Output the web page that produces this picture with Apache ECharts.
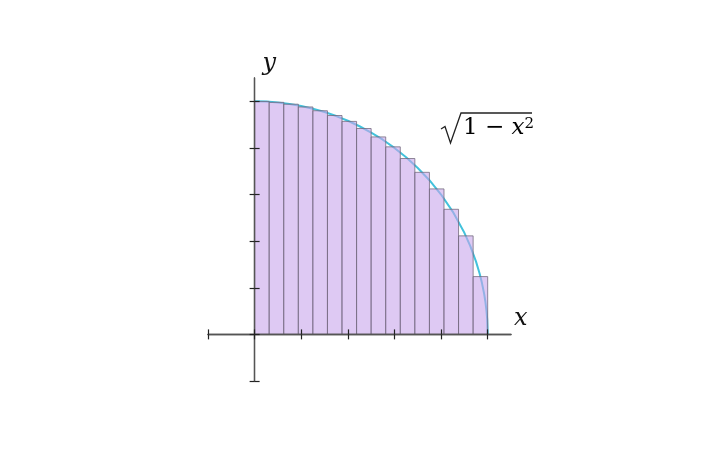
<!DOCTYPE html>
<html>
<head>
<meta charset="utf-8">
<script src="https://cdn.jsdelivr.net/npm/echarts@6/dist/echarts.min.js"></script>
<style>
  html, body { margin: 0; padding: 0; background: #fff; }
  #chart { width: 720px; height: 460px; }
</style>
</head>
<body>
<div id="chart"></div>
<script>
// rectangle edges along x (16 strips) and their heights
var edges = [0, 0.0625, 0.125, 0.1875, 0.25, 0.3125, 0.375, 0.4375, 0.5,
             0.5625, 0.625, 0.6875, 0.75, 0.8125, 0.875, 0.9375, 1];
var heights = [0.9995, 0.9956, 0.9877, 0.9758, 0.9596, 0.9391, 0.9138, 0.8833,
               0.8472, 0.8046, 0.7545, 0.6953, 0.6242, 0.5367, 0.4227, 0.2480];

// points of the curve sqrt(1 - x^2)
var curveX = [0, 0.05, 0.1, 0.15, 0.2, 0.25, 0.3, 0.35, 0.4, 0.45, 0.5, 0.55, 0.6,
              0.65, 0.7, 0.75, 0.8, 0.85, 0.9, 0.925, 0.95, 0.965, 0.975, 0.985,
              0.99, 0.995, 0.998, 1];
var curveY = [1, 0.9987, 0.9950, 0.9887, 0.9798, 0.9682, 0.9539, 0.9367, 0.9165,
              0.8930, 0.8660, 0.8352, 0.8, 0.7599, 0.7141, 0.6614, 0.6, 0.5268,
              0.4359, 0.3800, 0.3122, 0.2622, 0.2222, 0.1726, 0.1411, 0.0999,
              0.0632, 0];

// tick positions (the one at -0.2 closes the axis end)
var ticks = [-0.2, 0, 0.2, 0.4, 0.6, 0.8, 1.0];

var strips = [];
for (var i = 0; i < heights.length; i++) {
    strips.push([edges[i], edges[i + 1], heights[i]]);
}
var curve = [];
for (var j = 0; j < curveX.length; j++) {
    curve.push([curveX[j], curveY[j]]);
}

var serif = 'DejaVu Serif';
var axisColor = '#555';
var tickColor = '#222';

// two axes per direction, both moved onto zero: one draws the ticks on
// one side of the line, the other on the opposite side
function axisBase(position) {
    return {
        type: 'value',
        position: position,
        min: -0.2,
        max: 1.1,
        interval: 0.2,
        z: 5,
        splitLine: { show: false },
        axisLabel: { show: false },
        axisLine: { show: true, onZero: true, lineStyle: { color: axisColor, width: 1.3 } },
        axisTick: {
            show: true, inside: false, length: 5, customValues: ticks,
            lineStyle: { color: tickColor, width: 1.2 }
        }
    };
}

var xMain = axisBase('bottom');
xMain.name = 'x';
xMain.nameLocation = 'end';
xMain.nameGap = 3;
xMain.nameTextStyle = {
    fontFamily: serif, fontStyle: 'italic', fontSize: 24, color: '#111',
    verticalAlign: 'bottom', align: 'left', padding: [0, 0, 4, 0]
};
var yMain = axisBase('left');
yMain.name = 'y';
yMain.nameLocation = 'end';
yMain.nameGap = 2;
yMain.nameTextStyle = {
    fontFamily: serif, fontStyle: 'italic', fontSize: 24, color: '#111',
    verticalAlign: 'bottom', align: 'left', padding: [0, 0, 0, 8]
};

var myChart = echarts.init(document.getElementById('chart'));
var option = {
    animation: false,
    grid: { left: 208, right: 209, top: 78, bottom: 79, containLabel: false, outerBoundsMode: 'none' },
    xAxis: [xMain, axisBase('top')],
    yAxis: [yMain, axisBase('right')],
    series: [
        {
            type: 'line',
            data: curve,
            showSymbol: false,
            smooth: false,
            z: 1,
            lineStyle: { color: '#43c2dc', width: 2 }
        },
        {
            type: 'custom',
            data: strips,
            z: 3,
            renderItem: function (params, api) {
                var topLeft = api.coord([api.value(0), api.value(2)]);
                var botRight = api.coord([api.value(1), 0]);
                return {
                    type: 'rect',
                    shape: {
                        x: topLeft[0],
                        y: topLeft[1],
                        width: botRight[0] - topLeft[0],
                        height: botRight[1] - topLeft[1]
                    },
                    style: {
                        fill: 'rgba(200, 165, 235, 0.6)',
                        stroke: 'rgba(110, 100, 120, 0.75)',
                        lineWidth: 1
                    }
                };
            }
        }
    ],
    graphic: [
        {
            type: 'polyline',
            shape: { points: [[441, 129], [445, 126.5], [450.5, 143], [461, 113], [532, 113]] },
            style: { stroke: '#222', lineWidth: 1.3, fill: null }
        },
        {
            type: 'text',
            x: 463,
            y: 140,
            style: {
                text: '{n|1 − }{i|x}{s|2}',
                verticalAlign: 'bottom',
                rich: {
                    n: { fontFamily: serif, fontSize: 23, color: '#111' },
                    i: { fontFamily: serif, fontStyle: 'italic', fontSize: 23, color: '#111' },
                    s: { fontFamily: serif, fontSize: 15, color: '#111', verticalAlign: 'top' }
                }
            }
        }
    ]
};
myChart.setOption(option);
window.addEventListener('resize', function () { myChart.resize(); });
</script>
</body>
</html>
